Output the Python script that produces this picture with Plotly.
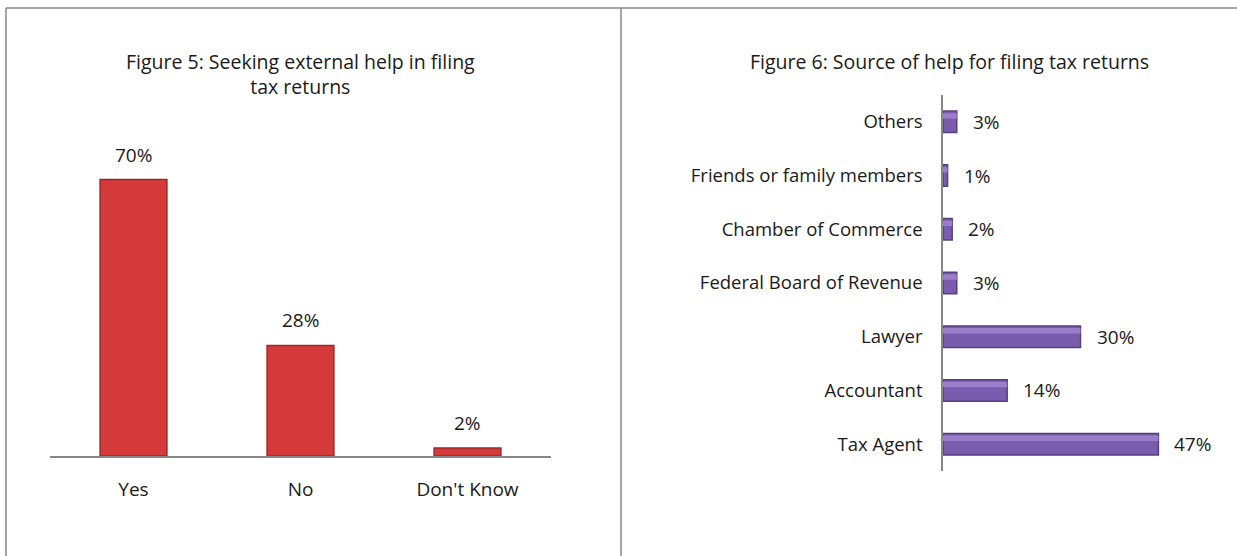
import plotly.graph_objects as go

W, H = 1237, 556

# Figure 5 data
help_cats = ["Yes", "No", "Don't Know"]
help_vals = [70, 28, 2]

# Figure 6 data (bottom to top)
source_cats = ["Tax Agent", "Accountant", "Lawyer", "Federal Board of Revenue",
               "Chamber of Commerce", "Friends or family members", "Others"]
source_vals = [47, 14, 30, 3, 2, 1, 3]

FONT = "Open Sans"
GREY = "#878787"
INK = "#1a1a1a"


def px(x):
    return x / W


def py(y):
    return 1 - y / H


fig = go.Figure()

# red columns
fig.add_trace(go.Bar(
    x=help_cats, y=help_vals, width=0.4,
    marker=dict(color="#D43A3A", line=dict(color="#9E2626", width=1.5)),
    xaxis="x", yaxis="y", hoverinfo="skip",
))

# purple bars with a soft highlight along the upper edge
fig.add_trace(go.Bar(
    y=source_cats, x=source_vals, orientation="h", width=0.4,
    marker=dict(color="#7A5CAE", line=dict(color="#54407C", width=1.5)),
    xaxis="x2", yaxis="y2", hoverinfo="skip",
))
fig.add_trace(go.Bar(
    y=source_cats, x=source_vals, orientation="h", width=0.1, offset=0.06,
    marker=dict(color="#9A7ECC", line=dict(width=0)),
    xaxis="x2", yaxis="y2", hoverinfo="skip",
))

annotations = []
for c, v in zip(help_cats, help_vals):
    annotations.append(dict(
        x=c, y=v, xref="x", yref="y", text=f"{v}%", showarrow=False,
        yanchor="bottom", yshift=10, font=dict(family=FONT, size=19, color=INK),
    ))
for c, v in zip(source_cats, source_vals):
    annotations.append(dict(
        x=v, y=c, xref="x2", yref="y2", text=f"{v}%", showarrow=False,
        xanchor="left", xshift=14, font=dict(family=FONT, size=19, color=INK),
    ))

annotations.append(dict(
    x=px(300), y=py(74), xref="paper", yref="paper", showarrow=False,
    text="Figure 5: Seeking external help in filing<br>tax returns",
    font=dict(family=FONT, size=19.5, color=INK), xanchor="center", yanchor="middle",
))
annotations.append(dict(
    x=px(950), y=py(62), xref="paper", yref="paper", showarrow=False,
    text="Figure 6: Source of help for filing tax returns",
    font=dict(family=FONT, size=19.5, color=INK), xanchor="center", yanchor="middle",
))

# panel frames
line = dict(color=GREY, width=1.5)
shapes = [
    dict(type="line", xref="paper", yref="paper", x0=px(6), x1=1, y0=py(8), y1=py(8), line=line),
    dict(type="line", xref="paper", yref="paper", x0=px(6), x1=px(6), y0=py(8), y1=0, line=line),
    dict(type="line", xref="paper", yref="paper", x0=px(621), x1=px(621), y0=py(8), y1=0, line=line),
]

fig.update_layout(
    width=W, height=H, margin=dict(l=0, r=0, t=0, b=0),
    paper_bgcolor="white", plot_bgcolor="white", showlegend=False, barmode="overlay",
    font=dict(family=FONT, size=19, color=INK),
    xaxis=dict(domain=[px(50), px(551)], range=[-0.5, 2.5], showgrid=False, zeroline=False,
               showline=True, linecolor=GREY, linewidth=1.5, ticks="", ticklabelstandoff=15,
               tickfont=dict(family=FONT, size=19, color=INK)),
    yaxis=dict(domain=[py(456), py(140)], range=[0, 80], visible=False),
    xaxis2=dict(domain=[px(943), px(1218)], range=[0, 60], visible=False, anchor="y2"),
    yaxis2=dict(domain=[py(471), py(95)], range=[-0.5, 6.5], anchor="x2", showgrid=False,
                zeroline=False, showline=True, linecolor=GREY, linewidth=1.5, ticks="",
                ticklabelstandoff=15, tickfont=dict(family=FONT, size=18.5, color=INK)),
    annotations=annotations, shapes=shapes,
)

fig.write_html("out.html")
